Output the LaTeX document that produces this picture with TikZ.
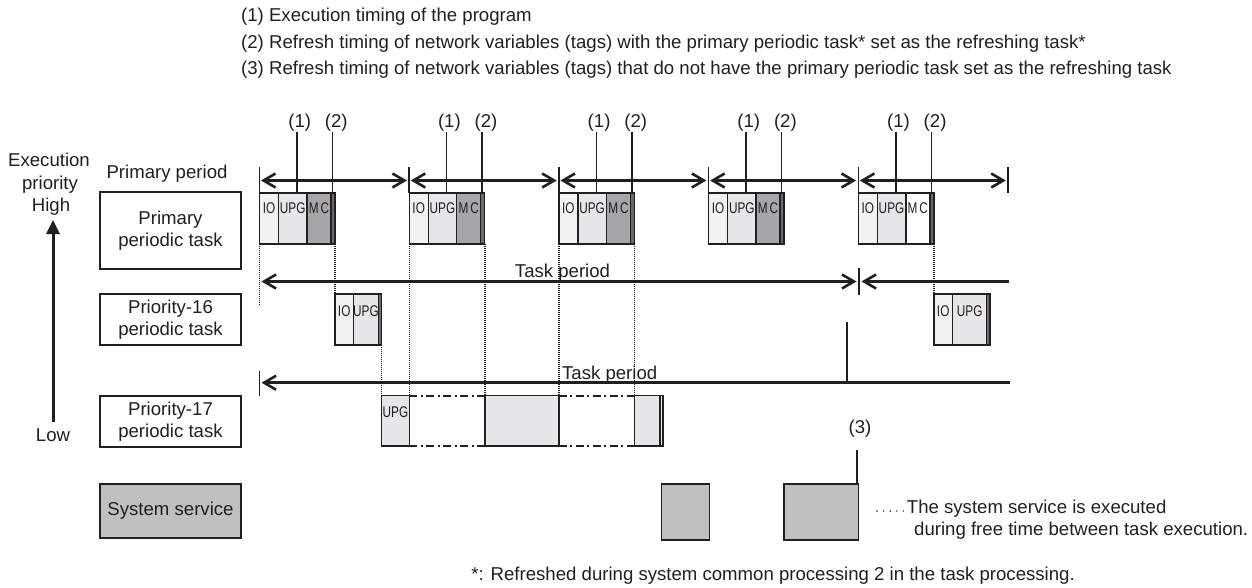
\documentclass[tikz,border=0pt]{standalone}
\usepackage{fontspec}
\setmainfont{Liberation Sans}
\usepackage{graphicx}
\usetikzlibrary{arrows.meta}
\definecolor{ln}{HTML}{231F20}
\definecolor{ioc}{HTML}{F1F2F1}
\definecolor{upgc}{HTML}{E6E6E8}
\definecolor{mcc}{HTML}{A6A6A8}
\definecolor{stc}{HTML}{6A6A6C}
\definecolor{ssc}{HTML}{C0C0C0}
\newcommand{\fs}{\fontsize{18.6pt}{22.5pt}\selectfont}
\newcommand{\nar}[1]{\scalebox{0.76}[1]{#1}}
\begin{document}
\begin{tikzpicture}[x=1pt,y=-1pt,
  txt/.style={font=\fs, text=ln, inner sep=0pt},
  lab/.style={draw=ln, line width=1.4pt, font=\fs, text=ln, align=center, minimum width=141pt, inner sep=0pt},
  blk/.style={draw=ln, line width=1.4pt},
  dotl/.style={draw=ln, line width=1.4pt, dash pattern=on 1.1pt off 0.9pt},
  ddl/.style={draw=ln, line width=2pt, dash pattern=on 8pt off 3.5pt on 2pt off 3.5pt},
  barb/.style={draw=ln, line width=2.6pt},
  per/.style={barb, {Straight Barb[length=12pt,width=14pt]}-{Straight Barb[length=12pt,width=14pt]}},
  perl/.style={barb, {Straight Barb[length=12pt,width=14pt]}-},
  tickl/.style={draw=ln, line width=1.5pt},
  small/.style={font=\fontsize{15.5pt}{15.5pt}\selectfont, text=ln, inner sep=0pt}
]
\useasboundingbox (0,0) rectangle (1252,587);
\fill[white] (0,0) rectangle (1252,587);

% header
\node[txt, anchor=base west] (h1) at (241,21.5) {(1) Execution timing of the program};
\node[txt, anchor=base west] (h2) at (241,48) {(2) Refresh timing of network variables (tags) with the primary periodic task* set as the refreshing task*};
\node[txt, anchor=base west] (h3) at (241,74.5) {(3) Refresh timing of network variables (tags) that do not have the primary periodic task set as the refreshing task};

% priority axis
\node[txt, anchor=base] (ex) at (49,166) {Execution};
\node[txt, anchor=base] (pr) at (50,189) {priority};
\node[txt, anchor=base] (hi) at (51,211.7) {High};
\node[txt, anchor=base] (lo) at (53,441.7) {Low};
\coordinate (axb) at (53,422);
\coordinate (axt) at (53,220);
\draw[ln, line width=3pt, -{Triangle[length=14pt,width=13pt]}] (axb) -- (axt);

% row labels
\node[txt, anchor=base] (pp) at (167,178.3) {Primary period};
\node[lab, minimum height=77pt] (rowA) at (170.5,230.5) {Primary\\periodic task};
\node[lab, minimum height=51pt] (rowB) at (170.5,319.5) {Priority-16\\periodic task};
\node[lab, minimum height=51pt] (rowC) at (170.5,421.5) {Priority-17\\periodic task};
\node[lab, minimum height=54pt, fill=ssc] (rowD) at (170.5,511) {System service};

% primary periods
\foreach \k/\mc in {0/mcc,1/mcc,2/mcc,3/mcc,4/white} {
  \pgfmathsetmacro\p{259.5+149.7*\k}
  \draw[tickl] (\p,167) -- (\p,193);
  \draw[per] ({\p+1.5},180.5) -- ({\p+147.5},180.5);
  \draw[blk, fill=ioc] (\p,193) rectangle ++(19,51);
  \draw[blk, fill=upgc] ({\p+19},193) rectangle ++(28.5,51);
  \draw[blk, fill=\mc] ({\p+47.5},193) rectangle ++(24,51);
  \draw[blk, fill=stc] ({\p+71.5},193) rectangle ++(4,51);
  \node[small] at ({\p+9.5},208.5) {\nar{IO}};
  \node[small] at ({\p+33.2},208.5) {\nar{UPG}};
  \node[small] at ({\p+59.5},208.5) {\nar{M\,C}};
  \draw[tickl] ({\p+37.5},132) -- ({\p+37.5},193);
  \draw[tickl] ({\p+73},132) -- ({\p+73},193);
  \node[txt] at ({\p+40.2},123) {(1)};
  \node[txt] at ({\p+76.8},123) {(2)};
}
\draw[tickl] (1008,167) -- (1008,193);

% dotted guide lines
\draw[dotl] (259.5,244) -- (259.5,306);
\draw[dotl] (335,244) -- (335,294);
\foreach \x in {409.2,484.9,558.9,634.6} { \draw[dotl] (\x,244) -- (\x,395.7); }
\draw[dotl] (933.8,244) -- (933.8,294);
\draw[dotl] (381.7,345) -- (381.7,395.7);

% task period (priority-16)
\draw[per] (261.5,281.5) -- (856.5,281.5);
\draw[tickl] (859,268) -- (859,295);
\draw[perl] (861.5,281.5) -- (1009,281.5);
\node[txt, anchor=base] (tp1) at (562.5,277.3) {Task period};

% priority-16 blocks
\draw[blk, fill=ioc] (335,294) rectangle (353.5,345);
\draw[blk, fill=upgc] (353.5,294) rectangle (378.3,345);
\draw[blk, fill=stc] (378.3,294) rectangle (381.7,345);
\node[small] at (344.2,311) {\nar{IO}};
\node[small] at (366,311) {\nar{UPG}};
\draw[blk, fill=ioc] (933.8,294) rectangle (952.7,345);
\draw[blk, fill=upgc] (952.7,294) rectangle (986.7,345);
\draw[blk, fill=stc] (986.7,294) rectangle (990,345);
\node[small] at (943.2,311) {\nar{IO}};
\node[small] at (969.7,311) {\nar{UPG}};

% task period (priority-17)
\draw[tickl] (259.5,371) -- (259.5,396);
\draw[perl] (261.5,382.7) -- (1010,382.7);
\draw[tickl] (847,322) -- (847,382.7);
\node[txt, anchor=base] (tp2) at (609.7,379.3) {Task period};

% priority-17 blocks
\draw[blk, fill=upgc] (381.7,395.7) rectangle (409.2,446);
\node[small] at (395.5,412) {\nar{UPG}};
\draw[ddl] (409.2,395.7) -- (484.9,395.7);
\draw[ddl] (409.2,446) -- (484.9,446);
\draw[blk, fill=upgc] (484.9,395.7) rectangle (558.9,446);
\draw[ddl] (558.9,395.7) -- (634.6,395.7);
\draw[ddl] (558.9,446) -- (634.6,446);
\draw[blk, fill=upgc] (634.6,395.7) rectangle (660,446);
\draw[blk, fill=upgc] (660,395.7) rectangle (663,446);

% system service blocks
\draw[blk, fill=ssc] (661.5,484) rectangle (709.5,540);
\draw[blk, fill=ssc] (784,484) rectangle (858.5,540);
\coordinate (c3) at (857,450);
\coordinate (c3b) at (857,484);
\draw[tickl] (c3) -- (c3b);
\node[txt] (l3) at (860,429) {(3)};

% note
\draw[ln, line width=1.6pt, dash pattern=on 0pt off 6.6pt, line cap=round] (877,511) -- (904,511);
\node[txt, anchor=base west] (n1) at (906.7,513.3) {The system service is executed};
\node[txt, anchor=base west] (n2) at (914,535.5) {during free time between task execution.};

% footnote
\node[txt, anchor=base east] (fn) at (1075,580) {*: Refreshed during system common processing 2 in the task processing.};
\end{tikzpicture}
\end{document}
